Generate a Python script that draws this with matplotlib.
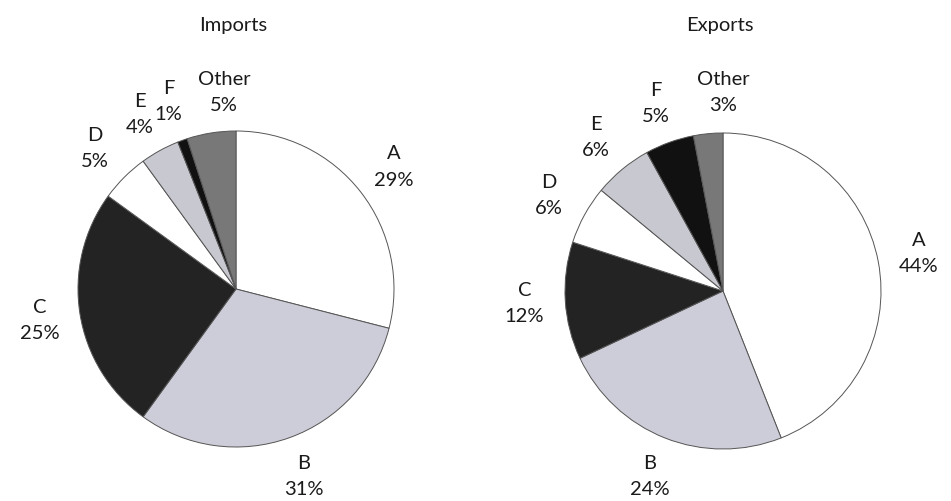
import matplotlib.pyplot as plt

# data
categories = ['A', 'B', 'C', 'D', 'E', 'F', 'Other']
imports_pct = [29, 31, 25, 5, 4, 1, 5]
exports_pct = [44, 24, 12, 6, 6, 5, 3]
titles = ['Imports', 'Exports']

slice_colors = ['#ffffff', '#cdcdd9', '#232323', '#ffffff', '#c8c8d0', '#111111', '#787878']

plt.rcParams['font.family'] = ['Lato', 'DejaVu Sans']

fig = plt.figure(figsize=(9.51, 5.01), dpi=100)
fig.patch.set_facecolor('white')

centres_px = [(236, 289), (723, 291)]
radius_px = 158
half = 1.3  # axes half-width in pie units

for (cx, cy), title, values in zip(centres_px, titles, [imports_pct, exports_pct]):
    size = 2 * half * radius_px
    ax = fig.add_axes([(cx - size / 2) / 951, (501 - cy - size / 2) / 501,
                       size / 951, size / 501])
    labels = [f'{c}\n{v}%' for c, v in zip(categories, values)]
    wedges, texts = ax.pie(values, labels=labels, colors=slice_colors, startangle=90,
                           counterclock=False, labeldistance=1.26,
                           wedgeprops=dict(edgecolor='#555555', linewidth=0.7),
                           textprops=dict(fontsize=14.5, color='#1a1a1a', ha='center',
                                          va='center', multialignment='center',
                                          linespacing=1.65))
    # the "Other" label sits a little right of its slice in the original
    x, y = texts[-1].get_position()
    texts[-1].set_position((x + 0.12, y))
    ax.set_xlim(-half, half)
    ax.set_ylim(-half, half)
    ax.set_aspect('equal')
    fig.text(cx / 951 - 3 / 951, 1 - 25 / 501, title, ha='center', va='center',
             fontsize=14.5, color='#1a1a1a')

fig.savefig('out.png', dpi=100, facecolor='white')
